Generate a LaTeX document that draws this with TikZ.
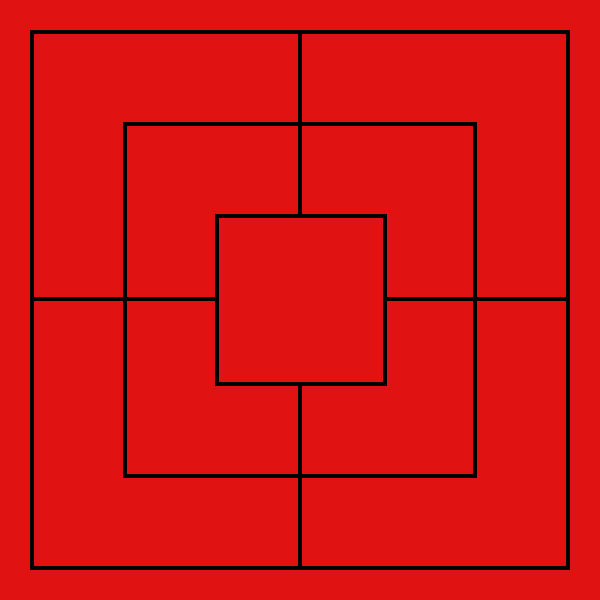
\documentclass[tikz,border=0pt]{standalone}
\usepackage{tikz}
\usepackage{xcolor}
\definecolor{boardred}{RGB}{224,18,18}

\begin{document}
\begin{tikzpicture}[
    x=0.02cm, y=-0.02cm,
    ring/.style={draw=black,line width=2.3pt},
    link/.style={draw=black,line width=2.3pt}
]
\fill[boardred] (0,0) rectangle (600,600);
\useasboundingbox (0,0) rectangle (600,600);
% three squares
\draw[ring] (32,32) rectangle (568,568);
\draw[ring] (125,124) rectangle (475,476);
\draw[ring] (217,216) rectangle (385,384);
% cross lines
\draw[link] (300,32) -- (300,216);
\draw[link] (300,384) -- (300,568);
\draw[link] (32,299) -- (217,299);
\draw[link] (385,299) -- (568,299);
\end{tikzpicture}
\end{document}
